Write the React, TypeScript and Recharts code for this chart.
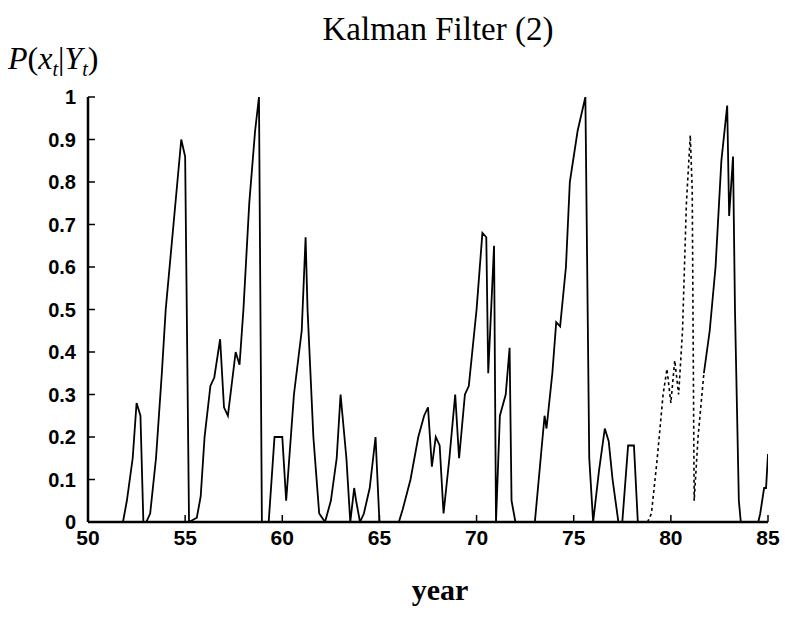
import React from "react";
import { LineChart, Line, XAxis, YAxis } from "recharts";

const years: number[] = [
  50, 51.8, 52.0, 52.3, 52.5, 52.7, 52.85, 53.0, 53.2, 53.5, 53.8, 54.0, 54.3, 54.6, 54.8, 55.0, 55.2,
  55.6, 55.8, 56.0, 56.3, 56.5, 56.8, 57.0, 57.2, 57.6, 57.8, 58.0, 58.3, 58.6, 58.8, 58.95,
  59.3, 59.6, 60.0, 60.2, 60.6, 61.0, 61.2, 61.3, 61.6, 61.9,
  62.2, 62.5, 62.8, 63.0, 63.3, 63.5, 63.7, 63.8, 64.0,
  64.2, 64.5, 64.8, 65.0, 66.0,
  66.2, 66.6, 67.0, 67.3, 67.5, 67.7, 67.9, 68.1, 68.3, 68.6, 68.9, 69.1, 69.4, 69.6, 70.0, 70.3, 70.5, 70.6, 70.9, 71.0,
  71.2, 71.5, 71.7, 71.8, 72.0, 73.0,
  73.2, 73.5, 73.6, 73.9, 74.1, 74.3, 74.6, 74.8, 75.2, 75.6, 75.8, 76.0,
  76.3, 76.6, 76.8, 77.0, 77.3, 77.5, 77.8, 78.1, 78.3, 78.8,
  79.0, 79.3, 79.6, 79.8, 80.0, 80.2, 80.4, 80.6, 80.8, 81.0, 81.1, 81.2, 81.4,
  81.7, 82.0, 82.3, 82.6, 82.9, 83.0, 83.2, 83.3, 83.5, 83.6, 84.5,
  84.6, 84.8, 84.9, 85.0,
];

const probs: number[] = [
  0, 0, 0.05, 0.15, 0.28, 0.25, 0, 0, 0.02, 0.15, 0.35, 0.5, 0.65, 0.8, 0.9, 0.86, 0,
  0.01, 0.06, 0.2, 0.32, 0.34, 0.43, 0.27, 0.25, 0.4, 0.37, 0.5, 0.75, 0.92, 1.0, 0,
  0, 0.2, 0.2, 0.05, 0.3, 0.45, 0.67, 0.5, 0.2, 0.02,
  0, 0.05, 0.15, 0.3, 0.15, 0, 0.08, 0.05, 0,
  0.02, 0.08, 0.2, 0, 0,
  0.03, 0.1, 0.2, 0.25, 0.27, 0.13, 0.2, 0.18, 0.02, 0.15, 0.3, 0.15, 0.3, 0.32, 0.5, 0.68, 0.67, 0.35, 0.65, 0,
  0.25, 0.3, 0.41, 0.05, 0, 0,
  0.1, 0.25, 0.22, 0.35, 0.47, 0.46, 0.6, 0.8, 0.92, 1.0, 0.15, 0,
  0.12, 0.22, 0.19, 0.1, 0, 0, 0.18, 0.18, 0, 0,
  0.02, 0.15, 0.3, 0.36, 0.28, 0.38, 0.3, 0.45, 0.75, 0.91, 0.78, 0.05, 0.2,
  0.35, 0.45, 0.6, 0.85, 0.98, 0.72, 0.86, 0.5, 0.05, 0, 0,
  0.02, 0.08, 0.08, 0.16,
];

const DOTTED_FROM = 78.8;
const DOTTED_TO = 81.7;

const xTicks: number[] = [50, 55, 60, 65, 70, 75, 80, 85];
const yTicks: number[] = [0, 0.1, 0.2, 0.3, 0.4, 0.5, 0.6, 0.7, 0.8, 0.9, 1];
const yTickLabels: string[] = ["0", "0.1", "0.2", "0.3", "0.4", "0.5", "0.6", "0.7", "0.8", "0.9", "1"];

const data = years.map((x, i) => ({
  x,
  solid: x <= DOTTED_FROM || x >= DOTTED_TO ? probs[i] : null,
  dotted: x >= DOTTED_FROM && x <= DOTTED_TO ? probs[i] : null,
}));

const TICK_FONT = "'Liberation Sans', Arial, sans-serif";
const SERIF = "'Liberation Serif', 'DejaVu Serif', serif";
const TICK_LEN = 7;

const BottomTick = (props: any) => {
  const { x, y, payload } = props;
  return (
    <g>
      <line x1={x} y1={y} x2={x} y2={y - TICK_LEN} stroke="#000" strokeWidth={1.5} />
      <text x={x} y={y + 23} textAnchor="middle" fontFamily={TICK_FONT} fontWeight="bold" fontSize={21} fill="#000">
        {String(payload.value)}
      </text>
    </g>
  );
};

const TopTick = (props: any) => {
  const { x, y } = props;
  return <line x1={x} y1={y} x2={x} y2={y + TICK_LEN} stroke="#000" strokeWidth={1.5} />;
};

const LeftTick = (props: any) => {
  const { x, y, payload, index } = props;
  return (
    <g>
      <line x1={x} y1={y} x2={x + TICK_LEN} y2={y} stroke="#000" strokeWidth={1.5} />
      <text x={x - 12} y={y} dy="0.35em" textAnchor="end" fontFamily={TICK_FONT} fontWeight="bold" fontSize={20} fill="#000">
        {yTickLabels[index] ?? String(payload.value)}
      </text>
    </g>
  );
};

const RightTick = (props: any) => {
  const { x, y } = props;
  return <line x1={x} y1={y} x2={x - TICK_LEN} y2={y} stroke="#000" strokeWidth={1.5} />;
};

export default function App() {
  return (
    <div style={{ position: "absolute", left: 0, top: 0, width: 803, height: 634, background: "#fff" }}>
      <div
        style={{
          position: "absolute",
          left: 0,
          width: 876,
          top: 9,
          textAlign: "center",
          fontFamily: SERIF,
          fontSize: 33,
          lineHeight: "40px",
          color: "#000",
        }}
      >
        Kalman Filter (2)
      </div>
      <div
        style={{
          position: "absolute",
          left: 8,
          top: 38,
          fontFamily: SERIF,
          fontSize: 32,
          lineHeight: "40px",
          fontStyle: "italic",
          color: "#000",
          whiteSpace: "nowrap",
        }}
      >
        P<span style={{ fontStyle: "normal" }}>(</span>x<sub style={{ fontSize: 20 }}>t</sub>
        <span style={{ fontStyle: "normal" }}>|</span>Y<sub style={{ fontSize: 20 }}>t</sub>
        <span style={{ fontStyle: "normal" }}>)</span>
      </div>
      <div
        style={{
          position: "absolute",
          left: 0,
          width: 880,
          top: 572,
          textAlign: "center",
          fontFamily: SERIF,
          fontSize: 30,
          lineHeight: "36px",
          fontWeight: "bold",
          color: "#000",
        }}
      >
        year
      </div>
      <LineChart
        width={803}
        height={634}
        data={data}
        margin={{ top: 97, right: 35, left: 38, bottom: 72 }}
        style={{ position: "absolute", left: 0, top: 0 }}
      >
        <XAxis
          xAxisId="bottom"
          dataKey="x"
          type="number"
          domain={[50, 85]}
          ticks={xTicks}
          allowDataOverflow
          height={40}
          tickSize={0}
          tickMargin={0}
          tickLine={false}
          axisLine={{ stroke: "#000", strokeWidth: 2.5 }}
          tick={<BottomTick />}
          interval={0}
        />
        <XAxis
          xAxisId="top"
          orientation="top"
          dataKey="x"
          type="number"
          domain={[50, 85]}
          ticks={xTicks}
          allowDataOverflow
          height={0}
          tickSize={0}
          tickMargin={0}
          tickLine={false}
          axisLine={{ stroke: "#000", strokeWidth: 2.5 }}
          tick={<TopTick />}
          interval={0}
        />
        <YAxis
          yAxisId="left"
          type="number"
          domain={[0, 1]}
          ticks={yTicks}
          allowDataOverflow
          width={50}
          tickSize={0}
          tickMargin={0}
          tickLine={false}
          axisLine={{ stroke: "#000", strokeWidth: 2.5 }}
          tick={<LeftTick />}
          interval={0}
        />
        <YAxis
          yAxisId="right"
          orientation="right"
          type="number"
          domain={[0, 1]}
          ticks={yTicks}
          allowDataOverflow
          width={0}
          tickSize={0}
          tickMargin={0}
          tickLine={false}
          axisLine={{ stroke: "#000", strokeWidth: 2.5 }}
          tick={<RightTick />}
          interval={0}
        />
        <Line
          xAxisId="bottom"
          yAxisId="left"
          type="linear"
          dataKey="solid"
          stroke="#000"
          strokeWidth={1.8}
          dot={false}
          isAnimationActive={false}
          connectNulls={false}
        />
        <Line
          xAxisId="bottom"
          yAxisId="left"
          type="linear"
          dataKey="dotted"
          stroke="#000"
          strokeWidth={1.6}
          strokeDasharray="3 3"
          dot={false}
          isAnimationActive={false}
          connectNulls={false}
        />
      </LineChart>
    </div>
  );
}
